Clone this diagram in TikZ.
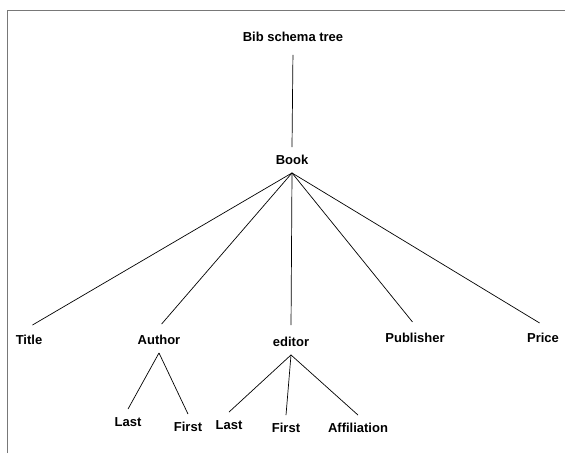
\documentclass[tikz,border=0pt]{standalone}
\usepackage{fontspec}
\setmainfont{Liberation Sans}
\usepackage{tikz}
\definecolor{F}{RGB}{120, 120, 120}

\begin{document}
\begin{tikzpicture}[x=1pt, y=-1pt,
    lbl/.style={font=\bfseries\fontsize{13}{15}\selectfont, inner xsep=1pt, inner ysep=8pt, text height=9.5pt, text depth=0pt},
    edge/.style={black, line width=0.7pt}]
  \useasboundingbox (0,0) rectangle (565,453);
  \draw[F, line width=0.6pt] (7,453) -- (7,10) -- (565,10);
  \node[lbl] (root) at (293,37) {Bib schema tree};
  \node[lbl] (book) at (292,160) {Book};
  \node[lbl] (title) at (29,340) {Title};
  \node[lbl] (author) at (159,340) {Author};
  \node[lbl] (editor) at (291,342) {editor};
  \node[lbl] (publisher) at (415,338) {Publisher};
  \node[lbl] (price) at (543,338) {Price};
  \node[lbl] (alast) at (128,422) {Last};
  \node[lbl] (afirst) at (188,427) {First};
  \node[lbl] (elast) at (229,425) {Last};
  \node[lbl] (efirst) at (286,428) {First};
  \node[lbl] (affil) at (358,428) {Affiliation};
  \draw[edge, shorten <=5pt] (root.south) -- (book.north);
  \draw[edge, shorten >=4pt] (book.south) -- (title.north);
  \draw[edge, shorten >=4pt] (book.south) -- (author.north);
  \draw[edge, shorten >=4pt] (book.south) -- (editor.north);
  \draw[edge, shorten >=4pt] (book.south) -- (publisher.north);
  \draw[edge, shorten >=4pt] (book.south) -- (price.north);
  \draw[edge] (author.south) -- (alast.north);
  \draw[edge] (author.south) -- (afirst.north);
  \draw[edge] (editor.south) -- (elast.north);
  \draw[edge] (editor.south) -- (efirst.north);
  \draw[edge] (editor.south) -- (affil.north);
\end{tikzpicture}
\end{document}
